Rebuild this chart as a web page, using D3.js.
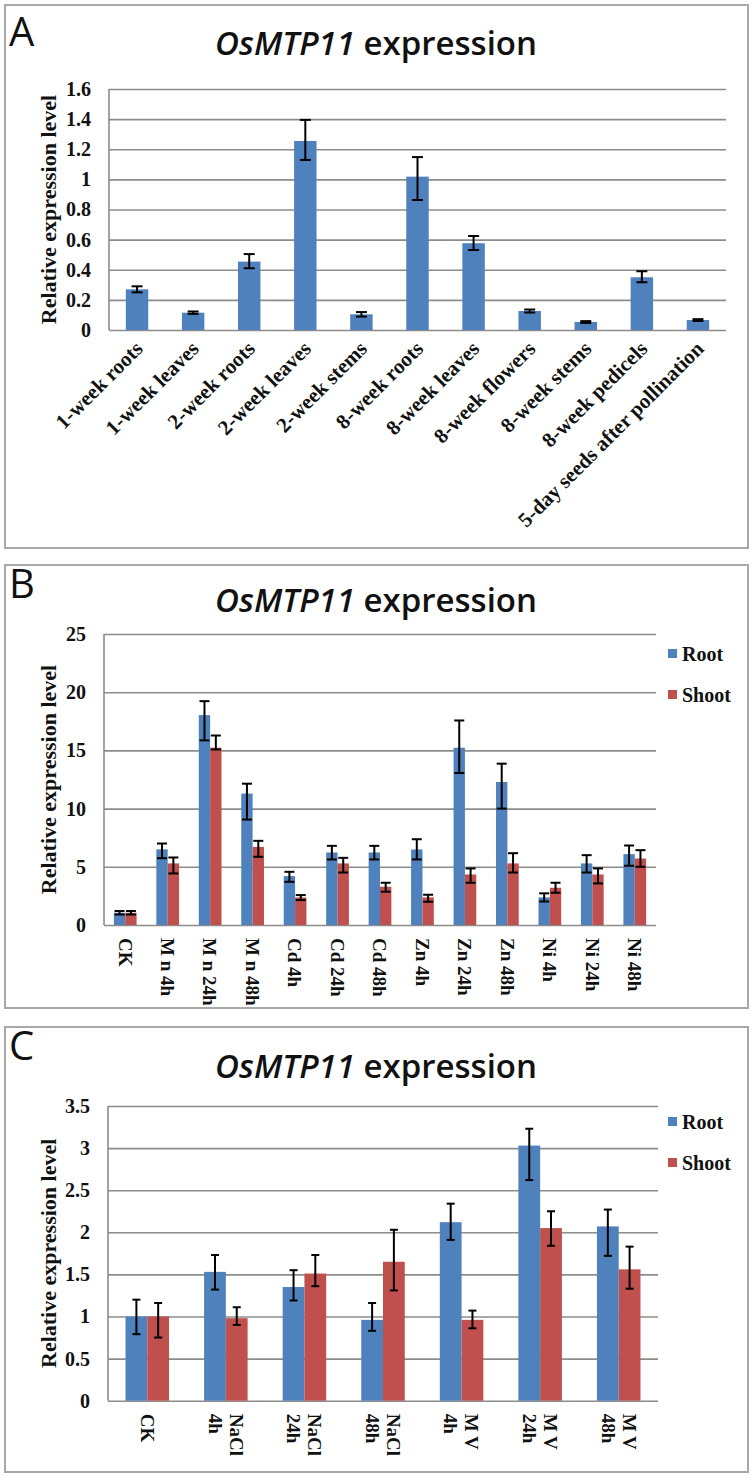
<!DOCTYPE html>
<html>
<head>
<meta charset="utf-8">
<script src="https://cdn.jsdelivr.net/npm/d3@7"></script>
<style>
  body { margin: 0; background: #fff; }
  svg { display: block; }
</style>
</head>
<body>
<svg id="chart" width="754" height="1478"></svg>
<script>
// ---- data ----
const catsA = ['1-week roots', '1-week leaves', '2-week roots', '2-week leaves', '2-week stems',
  '8-week roots', '8-week leaves', '8-week flowers', '8-week stems', '8-week pedicels',
  '5-day seeds after pollination'];
const valsA = [0.27, 0.115, 0.454, 1.255, 0.104, 1.018, 0.576, 0.126, 0.053, 0.35, 0.066];
const errUpA = [0.02, 0.008, 0.05, 0.14, 0.015, 0.13, 0.048, 0.01, 0.006, 0.04, 0.006];
const errDnA = [0.02, 0.008, 0.044, 0.126, 0.015, 0.155, 0.045, 0.01, 0.006, 0.033, 0.006];
const ticksA = [0, 0.2, 0.4, 0.6, 0.8, 1, 1.2, 1.4, 1.6];

const catsB = ['CK', 'M n 4h', 'M n 24h', 'M n 48h', 'Cd 4h', 'Cd 24h', 'Cd 48h',
  'Zn 4h', 'Zn 24h', 'Zn 48h', 'Ni 4h', 'Ni 24h', 'Ni 48h'];
const rootB = [1.05, 6.5, 18.03, 11.29, 4.2, 6.23, 6.23, 6.49, 15.23, 12.29, 2.37, 5.29, 6.09];
const rootUpB = [0.15, 0.5, 1.2, 0.85, 0.37, 0.57, 0.57, 0.88, 2.34, 1.57, 0.35, 0.71, 0.74];
const rootDnB = [0.15, 0.76, 2.17, 2.23, 0.49, 0.6, 0.6, 0.86, 2.17, 2.29, 0.35, 0.78, 1.0];
const shootB = [1.05, 5.29, 15.23, 6.71, 2.37, 5.29, 3.29, 2.37, 4.34, 5.29, 3.2, 4.34, 5.71];
const shootUpB = [0.15, 0.51, 1.05, 0.52, 0.2, 0.48, 0.34, 0.23, 0.52, 0.88, 0.43, 0.52, 0.72];
const shootDnB = [0.15, 0.86, 0.15, 0.85, 0.23, 0.78, 0.43, 0.37, 0.71, 0.78, 0.43, 0.77, 0.71];
const ticksB = [0, 5, 10, 15, 20, 25];

const catsC = [['CK'], ['NaCl', '4h'], ['NaCl', '24h'], ['NaCl', '48h'], ['M V', '4h'], ['M V', '24h'], ['M V', '48h']];
const rootC = [1.0, 1.53, 1.35, 0.96, 2.12, 3.03, 2.07];
const rootUpC = [0.2, 0.2, 0.2, 0.2, 0.22, 0.2, 0.2];
const rootDnC = [0.21, 0.21, 0.16, 0.13, 0.21, 0.41, 0.35];
const shootC = [1.0, 0.98, 1.51, 1.65, 0.96, 2.05, 1.56];
const shootUpC = [0.16, 0.13, 0.22, 0.38, 0.11, 0.2, 0.27];
const shootDnC = [0.25, 0.08, 0.15, 0.34, 0.1, 0.21, 0.23];
const ticksC = [0, 0.5, 1, 1.5, 2, 2.5, 3, 3.5];

const seriesNames = ['Root', 'Shoot'];
const colors = { Root: '#4F81BD', Shoot: '#C0504D' };

// ---- setup ----
const svg = d3.select('#chart');
const serif = "'Liberation Serif', 'Times New Roman', serif";
const sans = "'Open Sans', 'Liberation Sans', sans-serif";
const gridColor = '#8c8c8c';
const fmt = d => String(+d.toFixed(1));

svg.append('rect').attr('width', 754).attr('height', 1478).attr('fill', '#fff');

function frame(top, bottom, letter, letterY, titleY) {
  svg.append('rect')
    .attr('x', 5).attr('y', top).attr('width', 743).attr('height', bottom - top)
    .attr('fill', 'none').attr('stroke', '#a8a8a8').attr('stroke-width', 2);
  svg.append('text').attr('x', 9).attr('y', letterY)
    .attr('font-family', sans).attr('font-size', 40).attr('fill', '#111').text(letter);
  const t = svg.append('text').attr('x', 376).attr('y', titleY).attr('text-anchor', 'middle')
    .attr('font-family', sans).attr('font-size', 33).attr('font-weight', 600).attr('fill', '#111');
  t.append('tspan').attr('font-style', 'italic').text('OsMTP11');
  t.append('tspan').text(' expression');
}

function yAxis(y, x0, x1, ticks) {
  const g = svg.append('g').attr('transform', `translate(${x0},0)`);
  g.call(d3.axisLeft(y).tickValues(ticks).tickSize(-(x1 - x0)).tickFormat(''))
    .call(s => s.select('.domain').remove())
    .selectAll('line').attr('stroke', gridColor).attr('stroke-width', 1.6);
  const lab = svg.append('g').attr('transform', `translate(${x0},0)`);
  lab.call(d3.axisLeft(y).tickValues(ticks).tickSize(0).tickPadding(18).tickFormat(fmt))
    .call(s => s.select('.domain').remove())
    .selectAll('text').attr('font-family', serif).attr('font-weight', 'bold')
    .attr('font-size', 20).attr('fill', '#111');
  svg.append('line')
    .attr('x1', x0).attr('x2', x0).attr('y1', y.range()[1]).attr('y2', y.range()[0])
    .attr('stroke', gridColor).attr('stroke-width', 1.6);
  svg.append('text')
    .attr('transform', `translate(56,${(y.range()[0] + y.range()[1]) / 2}) rotate(-90)`)
    .attr('text-anchor', 'middle')
    .attr('font-family', serif).attr('font-weight', 'bold').attr('font-size', 22)
    .attr('fill', '#111').text('Relative expression level');
}

function errorBars(data, y, cap) {
  const g = svg.append('g').attr('stroke', '#000').attr('stroke-width', 2);
  data.forEach(d => {
    const yt = y(d.v + d.up), yb = y(d.v - d.dn);
    g.append('line').attr('x1', d.cx).attr('x2', d.cx).attr('y1', yt).attr('y2', yb);
    g.append('line').attr('x1', d.cx - cap / 2).attr('x2', d.cx + cap / 2).attr('y1', yt).attr('y2', yt);
    g.append('line').attr('x1', d.cx - cap / 2).attr('x2', d.cx + cap / 2).attr('y1', yb).attr('y2', yb);
  });
}

function legend(yRoot, yShoot) {
  [yRoot, yShoot].forEach((ly, i) => {
    const name = seriesNames[i];
    svg.append('rect').attr('x', 668).attr('y', ly - 12).attr('width', 9).attr('height', 9)
      .attr('fill', colors[name]);
    svg.append('text').attr('x', 682).attr('y', ly)
      .attr('font-family', serif).attr('font-weight', 'bold').attr('font-size', 20)
      .attr('fill', '#111').text(name);
  });
}

// ---- panel A ----
frame(5, 548, 'A', 46, 55);
const xA = d3.scaleBand().domain(catsA).range([109, 726]).paddingInner(0.6).paddingOuter(0.3);
const yA = d3.scaleLinear().domain([0, 1.6]).range([330, 89]);
yAxis(yA, 109, 726, ticksA);
svg.append('g').selectAll('rect').data(catsA).join('rect')
  .attr('x', d => xA(d)).attr('width', xA.bandwidth())
  .attr('y', (d, i) => yA(valsA[i])).attr('height', (d, i) => yA(0) - yA(valsA[i]))
  .attr('fill', colors.Root);
errorBars(catsA.map((c, i) => ({ cx: xA(c) + xA.bandwidth() / 2, v: valsA[i], up: errUpA[i], dn: errDnA[i] })), yA, 11);
svg.append('g').selectAll('text').data(catsA).join('text')
  .attr('transform', d => `translate(${xA(d) + xA.bandwidth() / 2 + 7},${yA(0) + 20}) rotate(-45)`)
  .attr('text-anchor', 'end')
  .attr('font-family', serif).attr('font-weight', 'bold').attr('font-size', 21)
  .attr('fill', '#111').text(d => d);

// ---- grouped panels ----
function grouped(cats, root, rootUp, rootDn, shoot, shootUp, shootDn, x0r, yDom, yRange, ticks, pad, cap) {
  const keys = cats.map((c, i) => i);
  const x0 = d3.scaleBand().domain(keys).range(x0r).paddingInner(pad).paddingOuter(pad / 2);
  const x1 = d3.scaleBand().domain(seriesNames).range([0, x0.bandwidth()]);
  const y = d3.scaleLinear().domain(yDom).range(yRange);
  yAxis(y, x0r[0], x0r[1], ticks);
  const sets = { Root: [root, rootUp, rootDn], Shoot: [shoot, shootUp, shootDn] };
  seriesNames.forEach(name => {
    const [v] = sets[name];
    svg.append('g').selectAll('rect').data(keys).join('rect')
      .attr('x', i => x0(i) + x1(name)).attr('width', x1.bandwidth())
      .attr('y', i => y(v[i])).attr('height', i => y(0) - y(v[i]))
      .attr('fill', colors[name]);
  });
  seriesNames.forEach(name => {
    const [v, up, dn] = sets[name];
    errorBars(keys.map(i => ({ cx: x0(i) + x1(name) + x1.bandwidth() / 2, v: v[i], up: up[i], dn: dn[i] })), y, cap);
  });
  // category labels, rotated to read downwards
  const lh = 21;
  keys.forEach(i => {
    const lines = Array.isArray(cats[i]) ? cats[i] : [cats[i]];
    const cx = x0(i) + x0.bandwidth() / 2;
    const t = svg.append('text')
      .attr('transform', `translate(${cx},${y(0) + 13}) rotate(90)`)
      .attr('font-family', serif).attr('font-weight', 'bold').attr('font-size', 19)
      .attr('fill', '#111');
    lines.forEach((ln, k) => {
      const off = (k - (lines.length - 1) / 2) * lh;
      t.append('tspan').attr('x', 0).attr('y', off).attr('dy', '0.35em').text(ln);
    });
  });
}

frame(565, 1008, 'B', 598, 612);
grouped(catsB, rootB, rootUpB, rootDnB, shootB, shootUpB, shootDnB,
  [104, 656], [0, 25], [925, 634], ticksB, 0.465, 10);
legend(661, 702);

frame(1027, 1472, 'C', 1060, 1078);
grouped(catsC, rootC, rootUpC, rootDnC, shootC, shootUpC, shootDnC,
  [108, 658], [0, 3.5], [1400.7, 1106], ticksC, 0.446, 8);
legend(1129, 1170);
</script>
</body>
</html>
